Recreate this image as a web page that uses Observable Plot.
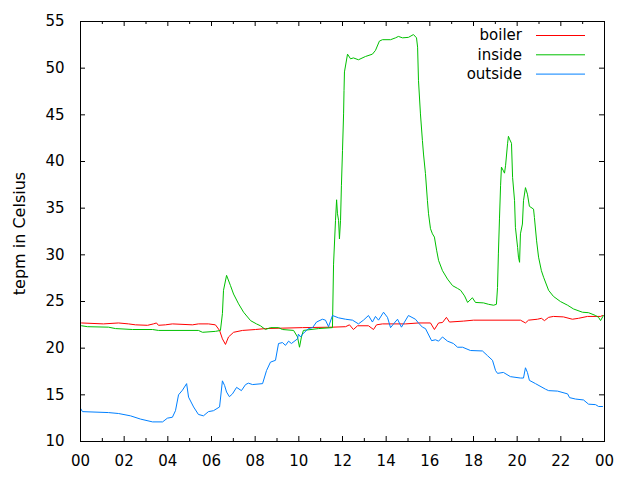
<!DOCTYPE html>
<html>
<head>
<meta charset="utf-8">
<script src="https://cdn.jsdelivr.net/npm/d3@7"></script>
<script src="https://cdn.jsdelivr.net/npm/@observablehq/plot@0.6"></script>
<style>
  html, body { margin: 0; padding: 0; background: white; }
  #chart { position: relative; width: 640px; height: 480px; }
</style>
</head>
<body>
<div id="chart"></div>
<script>
// ---- data: [hour of day, temperature °C] ----
const boiler = [
  [0.05,22.7],[1.05,22.6],[1.74,22.7],[2.20,22.6],[2.52,22.5],[3.07,22.45],[3.34,22.6],[3.48,22.7],
  [3.57,22.45],[3.89,22.5],[4.21,22.6],[5.13,22.5],[5.40,22.6],[5.86,22.6],[6.18,22.5],[6.37,21.9],
  [6.50,21.0],[6.64,20.4],[6.78,21.2],[7.01,21.7],[7.42,21.9],[8.02,22.0],[8.47,22.1],[10.17,22.2],
  [11.54,22.25],[12.14,22.3],[12.32,22.5],[12.50,22.0],[12.69,22.4],[13.19,22.4],[13.42,22.0],[13.56,22.5],
  [13.83,22.6],[14.89,22.6],[15.48,22.7],[16.03,22.7],[16.21,22.0],[16.40,22.7],[16.58,22.75],[16.76,23.3],
  [16.90,22.8],[17.54,22.9],[18.00,23.0],[20.15,23.0],[20.38,22.7],[20.52,23.0],[20.93,23.1],[21.11,23.2],
  [21.25,22.95],[21.44,23.3],[21.66,23.4],[22.12,23.35],[22.53,23.1],[22.81,23.2],[23.22,23.4],[23.82,23.4],
  [23.91,23.5]
];
const inside = [
  [0.05,22.4],[0.32,22.3],[1.28,22.25],[1.60,22.1],[2.38,22.0],[3.30,22.0],[3.57,21.9],[5.40,21.9],
  [5.59,21.7],[6.18,21.8],[6.41,21.9],[6.50,23.7],[6.55,26.2],[6.69,27.8],[6.87,26.7],[7.01,25.8],
  [7.24,24.75],[7.47,23.85],[7.79,22.95],[8.06,22.6],[8.24,22.4],[8.47,22.0],[8.70,22.2],[9.07,22.2],
  [9.25,22.0],[9.76,21.9],[9.94,21.2],[10.03,20.1],[10.12,21.2],[10.21,21.9],[10.90,22.1],[11.54,22.2],
  [11.59,29.0],[11.68,33.7],[11.73,35.9],[11.77,34.4],[11.82,33.7],[11.86,31.7],[11.91,33.7],[11.95,37.4],
  [12.00,41.2],[12.05,45.1],[12.07,47.6],[12.09,49.6],[12.23,51.5],[12.37,51.0],[12.50,51.1],[12.73,50.9],
  [13.05,51.25],[13.37,51.5],[13.51,51.9],[13.69,52.9],[13.83,53.05],[14.20,53.05],[14.43,53.25],[14.56,53.4],
  [14.75,53.25],[15.02,53.3],[15.25,53.6],[15.39,53.25],[15.44,52.25],[15.48,48.7],[15.57,45.1],[15.66,42.25],
  [15.71,40.8],[15.80,38.7],[15.89,35.8],[15.94,34.4],[16.03,32.8],[16.12,32.25],[16.21,31.9],[16.31,30.5],
  [16.40,29.4],[16.58,28.3],[16.81,27.4],[17.04,26.7],[17.27,26.4],[17.41,26.2],[17.59,25.6],[17.73,24.9],
  [17.95,25.4],[18.09,24.9],[18.46,24.85],[18.69,24.7],[18.92,24.6],[19.05,24.7],[19.10,26.5],[19.14,30.1],
  [19.19,33.85],[19.24,37.4],[19.28,39.4],[19.37,39.0],[19.42,38.75],[19.47,39.6],[19.56,41.9],[19.60,42.7],
  [19.65,42.4],[19.74,41.95],[19.79,38.3],[19.88,35.8],[19.92,32.95],[20.02,30.8],[20.06,29.75],[20.11,29.2],
  [20.15,32.25],[20.24,33.3],[20.29,35.8],[20.38,37.2],[20.47,36.5],[20.56,35.2],[20.75,34.9],[20.79,34.0],
  [20.89,31.5],[20.98,29.75],[21.11,28.3],[21.21,27.6],[21.44,26.2],[21.66,25.55],[21.98,25.0],[22.31,24.6],
  [22.58,24.2],[22.99,23.85],[23.27,23.8],[23.59,23.5],[23.73,23.3],[23.82,22.95],[23.95,23.5]
];
const outside = [
  [0.00,13.55],[0.09,13.2],[1.28,13.1],[1.74,13.0],[2.29,12.75],[2.75,12.4],[3.30,12.1],[3.76,12.1],
  [3.98,12.5],[4.21,12.6],[4.35,13.3],[4.49,15.0],[4.67,15.5],[4.86,16.2],[4.95,14.75],[5.18,13.7],
  [5.40,12.9],[5.63,12.75],[5.86,13.2],[6.09,13.3],[6.37,13.7],[6.50,16.5],[6.60,16.0],[6.69,15.3],
  [6.82,14.8],[6.96,15.1],[7.15,15.8],[7.37,15.45],[7.56,16.1],[7.69,16.25],[7.88,16.1],[8.34,16.2],
  [8.52,17.6],[8.70,18.5],[8.93,18.7],[9.07,20.5],[9.25,20.6],[9.39,20.3],[9.53,20.75],[9.66,20.5],
  [9.94,21.0],[9.98,21.5],[10.08,21.2],[10.17,21.5],[10.44,22.1],[10.63,22.2],[10.81,22.8],[11.08,23.1],
  [11.22,23.0],[11.36,22.3],[11.54,23.5],[11.82,23.25],[12.14,23.1],[12.46,23.0],[12.73,22.6],[12.96,23.0],
  [13.19,23.5],[13.37,22.8],[13.51,23.4],[13.65,23.0],[13.88,23.85],[14.06,23.3],[14.20,22.2],[14.34,22.6],
  [14.52,23.1],[14.70,22.25],[15.02,23.5],[15.34,23.1],[15.48,22.7],[15.66,22.25],[15.80,22.1],[16.08,20.8],
  [16.26,20.9],[16.40,20.75],[16.58,21.2],[16.81,20.75],[17.08,20.5],[17.27,20.1],[17.50,20.1],[17.86,19.75],
  [18.41,19.7],[18.64,19.2],[18.87,18.7],[19.01,17.6],[19.10,17.3],[19.37,17.4],[19.69,16.95],[20.15,16.8],
  [20.29,16.8],[20.38,17.9],[20.47,17.4],[20.56,16.55],[20.84,16.2],[21.30,15.6],[21.44,15.45],[21.85,15.4],
  [22.31,15.1],[22.40,14.7],[22.67,14.55],[23.04,14.45],[23.27,14.0],[23.59,13.95],[23.73,13.75],[23.91,13.75]
];
const seriesNames = ["boiler", "inside", "outside"];
const seriesColors = ["#ff0000", "#00c000", "#0080ff"];
const xLabelHours = [0, 2, 4, 6, 8, 10, 12, 14, 16, 18, 20, 22, 24];
const xMinorHours = [1, 3, 5, 7, 9, 11, 13, 15, 17, 19, 21, 23];
const yTicks = [10, 15, 20, 25, 30, 35, 40, 45, 50, 55];
const yTitle = "tepm in Celsius";

// ---- layout ----
const W = 640, H = 480, mL = 80, mR = 36, mT = 21, mB = 39;
const pw = W - mL - mR, ph = H - mT - mB;
const majorLen = 5, minorLen = 3, yTickLen = 5;
const fontFamily = "'DejaVu Sans', sans-serif";

const allSeries = [boiler, inside, outside];

const svg = Plot.plot({
  width: W, height: H,
  marginLeft: mL, marginRight: mR, marginTop: mT, marginBottom: mB,
  x: {domain: [0, 24]},
  y: {domain: [10, 55]},
  style: {fontFamily, fontSize: "15px", background: "white", color: "black", overflow: "visible"},
  marks: [
    ...allSeries.map((s, i) => Plot.line(s, {x: d => d[0], y: d => d[1], stroke: seriesColors[i], strokeWidth: 1})),
    Plot.frame({stroke: "black"}),
    Plot.tickX(xLabelHours, {x: d => d, insetTop: ph - majorLen}),
    Plot.tickX(xLabelHours, {x: d => d, insetBottom: ph - majorLen}),
    Plot.tickX(xMinorHours, {x: d => d, insetTop: ph - minorLen}),
    Plot.tickX(xMinorHours, {x: d => d, insetBottom: ph - minorLen}),
    Plot.tickY(yTicks, {y: d => d, insetRight: pw - yTickLen}),
    Plot.tickY(yTicks, {y: d => d, insetLeft: pw - yTickLen}),
    Plot.axisX(xLabelHours, {tickSize: 0, tickPadding: 14, label: null,
      tickFormat: d => String(d % 24).padStart(2, "0")}),
    Plot.axisY(yTicks, {tickSize: 0, tickPadding: 16, label: null}),
    Plot.text([yTitle], {text: d => d, frameAnchor: "left", textAnchor: "middle", dy: 2,
      dx: -61, rotate: -90, fontSize: 16})
  ]
});

// legend (top right, gnuplot style)
const leg = d3.select(svg).append("g").attr("font-family", fontFamily).attr("font-size", 15);
seriesNames.forEach((name, i) => {
  const y = 35 + i * 19.3;
  leg.append("text").attr("x", 522).attr("y", y).attr("dy", "0.35em")
    .attr("text-anchor", "end").attr("fill", "black").text(name);
  leg.append("line").attr("x1", 536).attr("x2", 585).attr("y1", y + 0.5).attr("y2", y + 0.5)
    .attr("stroke", seriesColors[i]).attr("stroke-width", 1);
});

document.getElementById("chart").appendChild(svg);
</script>
</body>
</html>
